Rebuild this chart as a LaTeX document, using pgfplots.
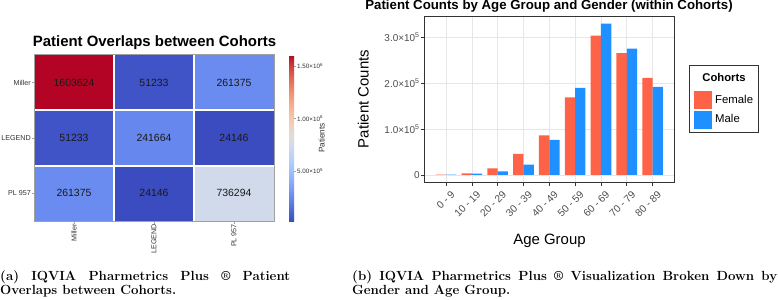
\documentclass[border=0pt]{standalone}
\usepackage{fontspec}
\newfontfamily\lib{Liberation Sans}
\usepackage{pgfplots}
\pgfplotsset{compat=1.18}
\hyphenpenalty=10000
\exhyphenpenalty=10000
\tolerance=10000
\definecolor{female}{HTML}{FF6347}
\definecolor{male}{HTML}{1E90FF}
\definecolor{framec}{HTML}{333333}
\definecolor{gridc}{HTML}{E6E6E6}
\definecolor{tickc}{HTML}{4D4D4D}
\definecolor{hmframe}{HTML}{A0A0A0}
\pgfplotsset{colormap={coolwarm}{
rgb255=(59,76,192) rgb255=(68,90,204) rgb255=(77,104,215) rgb255=(87,117,225)
rgb255=(98,130,234) rgb255=(108,142,241) rgb255=(119,154,247) rgb255=(130,165,251)
rgb255=(141,176,254) rgb255=(152,185,255) rgb255=(163,194,255) rgb255=(174,201,253)
rgb255=(184,208,249) rgb255=(194,213,244) rgb255=(204,217,238) rgb255=(213,219,230)
rgb255=(221,221,221) rgb255=(229,216,209) rgb255=(236,211,197) rgb255=(241,204,185)
rgb255=(245,196,173) rgb255=(247,187,160) rgb255=(247,177,148) rgb255=(247,166,135)
rgb255=(244,154,123) rgb255=(241,141,111) rgb255=(236,127,99) rgb255=(229,112,88)
rgb255=(222,96,77) rgb255=(213,80,66) rgb255=(203,62,56) rgb255=(192,40,47)
rgb255=(180,4,38)}}
\begin{document}
\hyphenpenalty=10000
\exhyphenpenalty=10000
\tolerance=10000
\begin{tikzpicture}[x=1bp,y=1bp]
\useasboundingbox (0,0) rectangle (778,299);
% ---------------- heatmap ----------------
\begin{axis}[at={(34bp,78bp)}, anchor=south west, width=240bp, height=166bp, scale only axis,
  xmin=-0.5, xmax=2.5, ymin=-0.5, ymax=2.5,
  colormap name=coolwarm, point meta min=24146, point meta max=1603624,
  xtick={0,1,2}, xticklabels={Miller,LEGEND,PL 957},
  ytick={0,1,2}, yticklabels={PL 957,LEGEND,Miller},
  xtick pos=bottom, ytick pos=left, tick align=outside, major tick length=2.5bp,
  minor xtick={0.5,1.5}, minor ytick={0.5,1.5}, minor tick length=0pt,
  xminorgrids, yminorgrids, minor grid style={white, line width=1.8bp},
  axis on top, axis line style={draw=hmframe, line width=1bp},
  major tick style={draw=hmframe, line width=0.6bp},
  xticklabel style={rotate=90, anchor=east, inner sep=0.5bp, font=\lib\fontsize{7.2}{8}\selectfont, text=framec},
  yticklabel style={inner sep=0.5bp, font=\lib\fontsize{7.2}{8}\selectfont, text=framec},
  colorbar right,
  colorbar style={at={(parent axis.north east)}, anchor=north west, xshift=6.5bp,
    width=5bp, scale only axis, axis line style={draw=none},
    ytick={500000,1000000,1500000}, scaled y ticks=false,
    yticklabels={5.00×10\textsuperscript{5},1.00×10\textsuperscript{6},1.50×10\textsuperscript{6}},
    ytick pos=right, yticklabel pos=right, tick align=outside, major tick length=2bp,
    major tick style={draw=hmframe, line width=0.5bp},
    yticklabel style={inner sep=1bp, font=\lib\fontsize{6.3}{7}\selectfont, text=framec}},
]
\addplot[matrix plot*, mesh/cols=3, point meta=explicit] table[meta=v] {
x y v
0 0 261375
1 0 24146
2 0 736294
0 1 51233
1 1 241664
2 1 24146
0 2 1603624
1 2 51233
2 2 261375
};
\addplot[only marks, mark=none, nodes near coords, point meta=explicit symbolic,
  nodes near coords style={anchor=center, inner sep=0pt, font=\lib\fontsize{10.5}{12}\selectfont, text=black!90}]
  table[meta=t] {
x y t
0 0 261375
1 0 24146
2 0 736294
0 1 51233
1 1 241664
2 1 24146
0 2 1603624
1 2 51233
2 2 261375
};
\end{axis}
\node[anchor=base, font=\lib\bfseries\fontsize{15}{16}\selectfont] at (154.5,253) {Patient Overlaps between Cohorts};
\node[rotate=90, font=\lib\fontsize{8.3}{9}\selectfont, text=framec] at (321.7,161) {Patients};
% ---------------- bar chart ----------------
\begin{axis}[at={(424.3bp,116.3bp)}, anchor=south west, width=250bp, height=166bp, scale only axis,
  xmin=-0.84, xmax=8.84, ymin=-16800, ymax=344900,
  ybar, bar width=0.4,
  xtick={0,1,2,3,4,5,6,7,8},
  xticklabels={0 - 9,10 - 19,20 - 29,30 - 39,40 - 49,50 - 59,60 - 69,70 - 79,80 - 89},
  ytick={0,100000,200000,300000},
  yticklabels={0,1.0×10\textsuperscript{5},2.0×10\textsuperscript{5},3.0×10\textsuperscript{5}},
  scaled y ticks=false,
  grid=major, major grid style={draw=gridc, line width=0.6bp},
  axis line style={draw=framec, line width=0.9bp},
  tick align=outside, xtick pos=bottom, ytick pos=left, major tick length=3bp,
  major tick style={draw=framec, line width=0.6bp},
  xticklabel style={rotate=45, anchor=north east, inner sep=0bp, yshift=-6bp, font=\lib\fontsize{10.3}{11}\selectfont, text=tickc},
  yticklabel style={inner sep=1.5bp, font=\lib\fontsize{10}{11}\selectfont, text=tickc},
  legend style={at={(axis description cs:1.076,0.554)}, anchor=north west, draw=none, fill=none,
    inner sep=0pt, row sep=2.6bp, column sep=4.3bp, nodes={inner sep=0pt},
    font=\lib\fontsize{11.4}{12}\selectfont},
  legend cell align=left,
]
\addplot[fill=female, draw=none, bar shift=-0.2, forget plot] coordinates {
(0,1000) (1,3700) (2,14600) (3,46000) (4,86400) (5,169200) (6,303600) (7,265800) (8,211400)};
\addplot[fill=male, draw=none, bar shift=0.2, forget plot] coordinates {
(0,800) (1,3200) (2,7700) (3,22800) (4,76300) (5,189600) (6,329800) (7,275300) (8,191800)};
\addlegendimage{legend image code/.code={\fill[female] (0bp,-8.5bp) rectangle (17bp,8.5bp);}}
\addlegendentry{Female}
\addlegendimage{legend image code/.code={\fill[male] (0bp,-8.5bp) rectangle (17bp,8.5bp);}}
\addlegendentry{Male}
\end{axis}
\draw[framec, line width=0.9bp] (689,167) rectangle (758.3,233.3);
\node[font=\lib\bfseries\fontsize{11.3}{12}\selectfont] at (724,221.7) {Cohorts};
\node[anchor=base, font=\lib\bfseries\fontsize{13.3}{14}\selectfont] at (549,289.5) {Patient Counts by Age Group and Gender (within Cohorts)};
\node[rotate=90, font=\lib\fontsize{15}{16}\selectfont] at (363.3,200) {Patient Counts};
\node[anchor=base, font=\lib\fontsize{15}{16}\selectfont] at (549.5,55) {Age Group};
% ---------------- captions ----------------
\node[anchor=north west, inner sep=0pt, text width=290bp, align=justify,
  font=\bfseries\fontsize{13.3}{14}\selectfont] at (0,29)
  {\hyphenpenalty=10000 (a) IQVIA Pharmetrics Plus \textregistered{} Patient \mbox{Overlaps} between Cohorts.};
\node[anchor=north west, inner sep=0pt, text width=425bp, align=justify,
  font=\bfseries\fontsize{13.3}{14}\selectfont] at (352,29)
  {\hyphenpenalty=10000 (b) IQVIA Pharmetrics Plus \textregistered{} Visualization Broken Down by Gender and Age Group.};
\end{tikzpicture}
\end{document}
